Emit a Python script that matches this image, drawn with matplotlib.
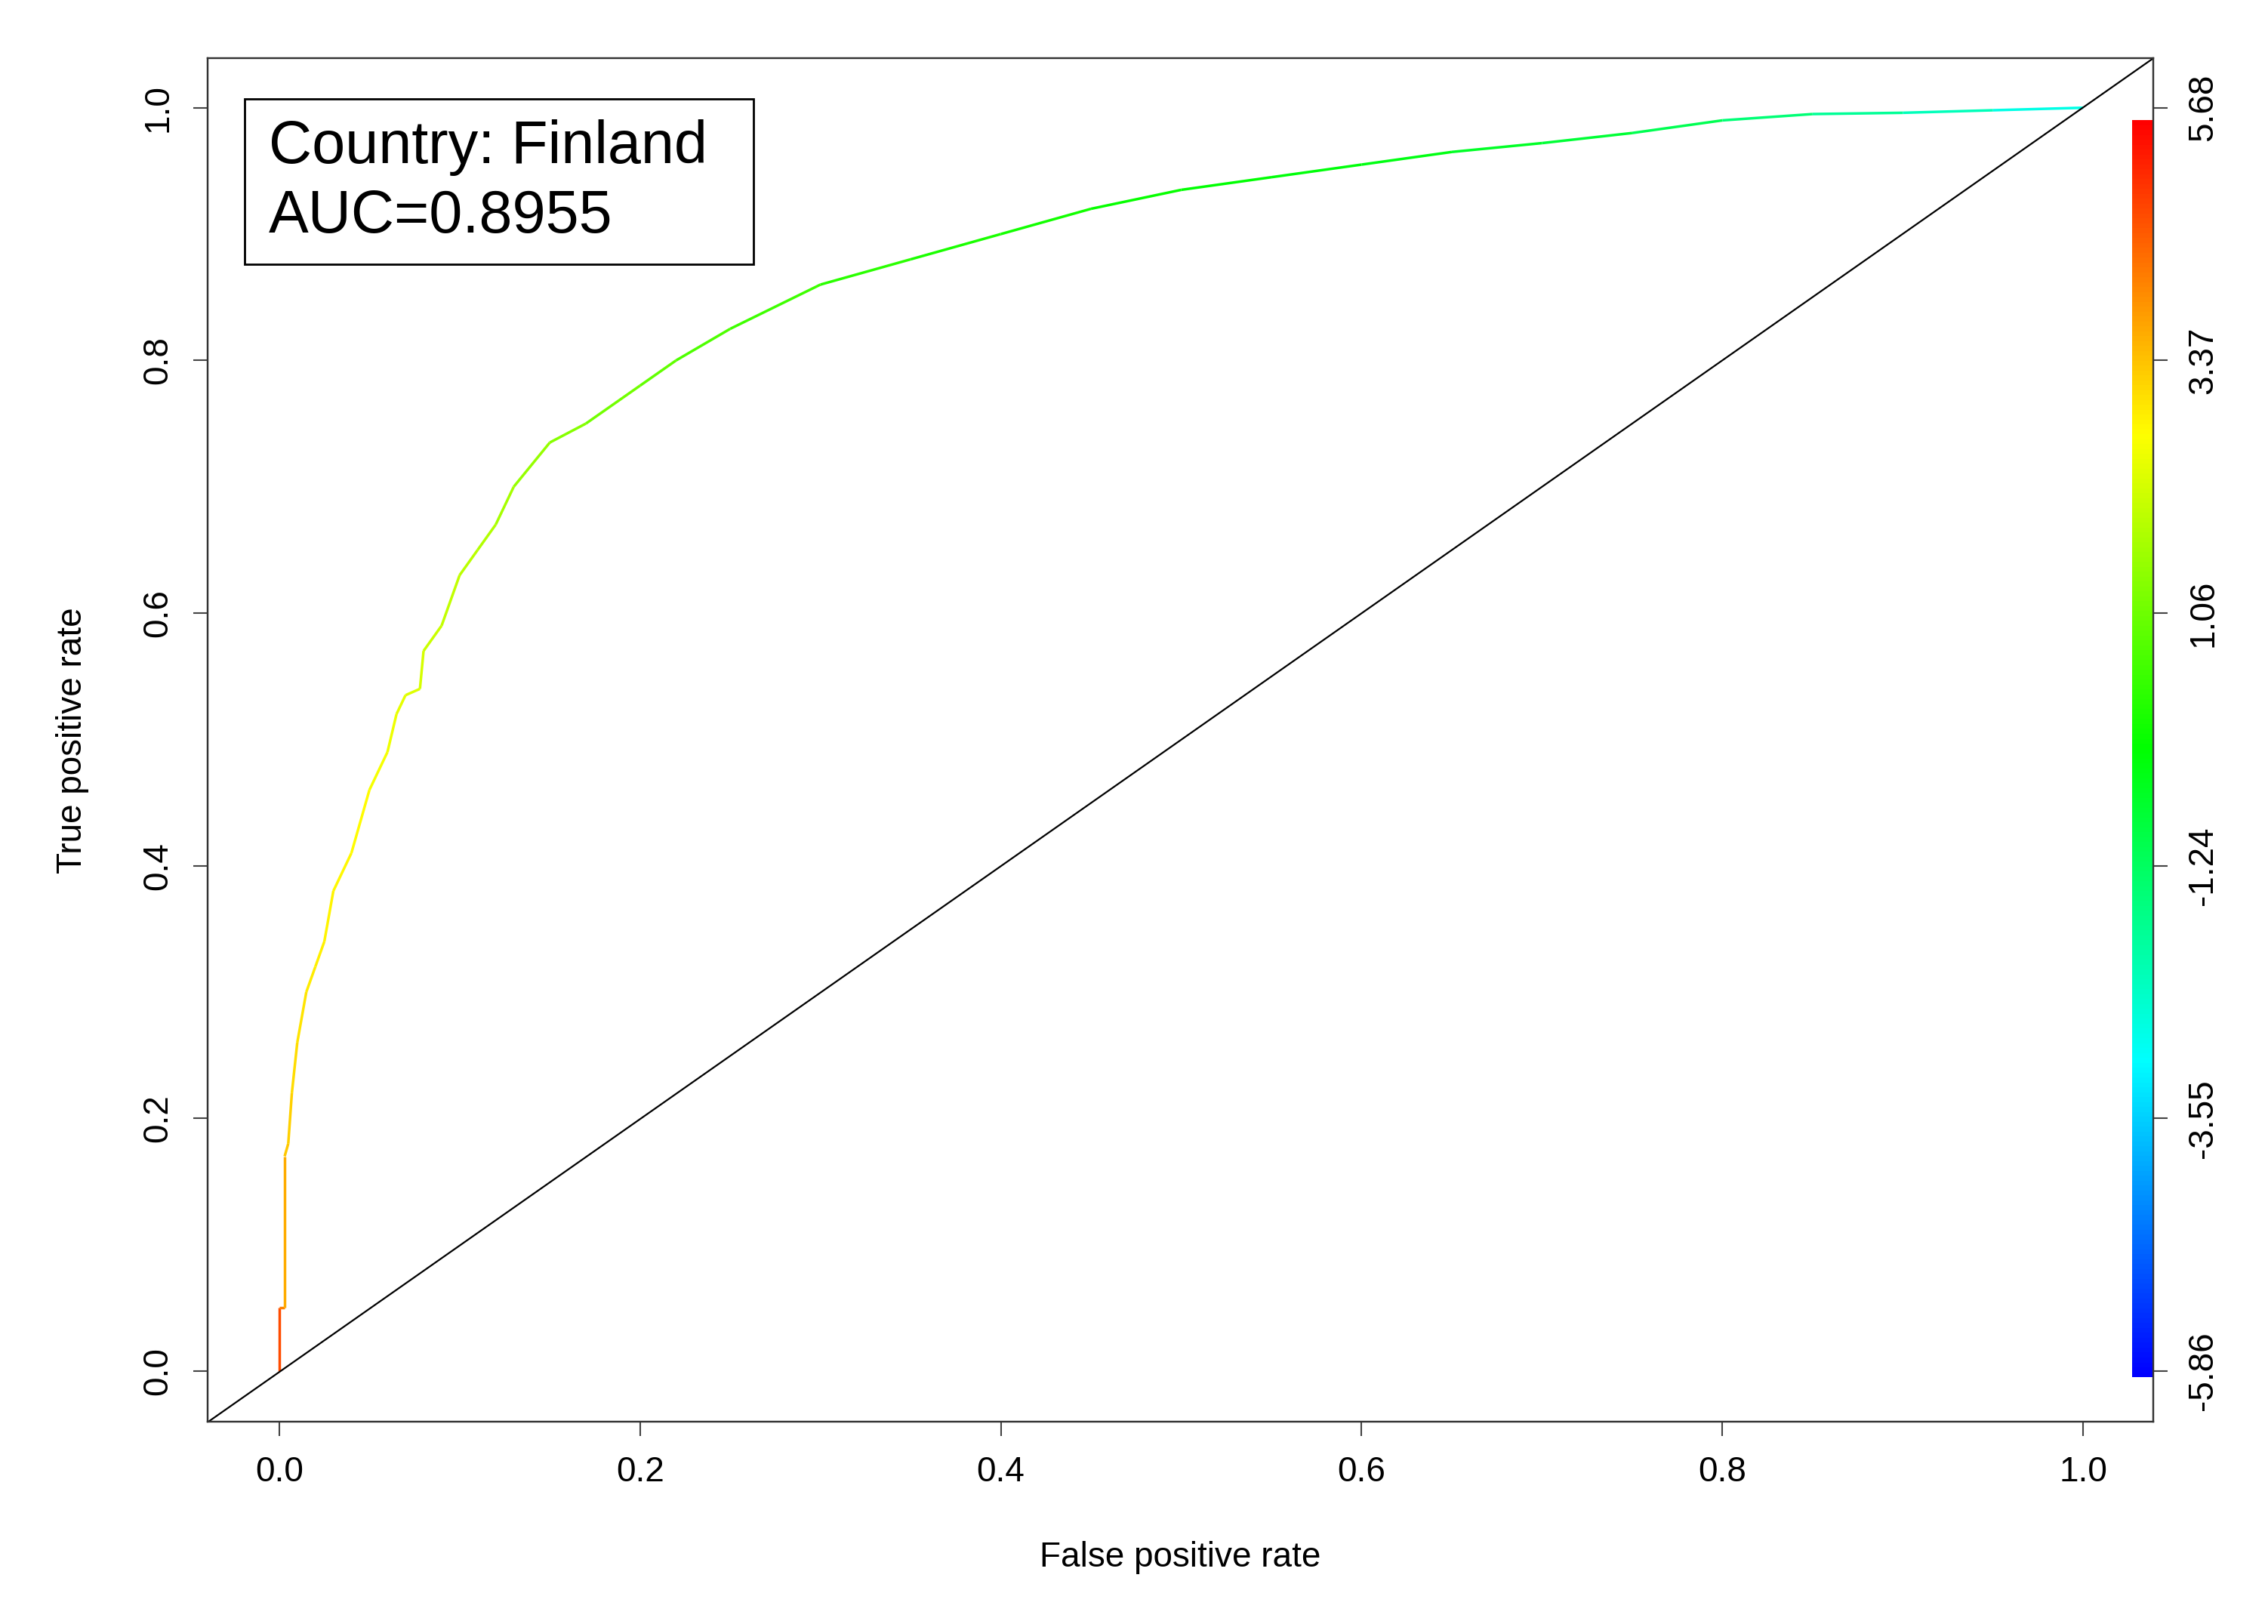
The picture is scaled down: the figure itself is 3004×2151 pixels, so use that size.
import numpy as np
import matplotlib.pyplot as plt
from matplotlib.collections import LineCollection
from matplotlib.colors import LinearSegmentedColormap, Normalize, hsv_to_rgb

plt.rcParams['font.family'] = ['Liberation Sans', 'DejaVu Sans']

# ROC curve
fpr = [0.0, 0.0, 0.003, 0.003, 0.005, 0.007, 0.01, 0.015, 0.02, 0.025, 0.03, 0.04,
       0.05, 0.06, 0.065, 0.07, 0.078, 0.08, 0.09, 0.1, 0.11, 0.12, 0.13, 0.15, 0.17,
       0.2, 0.22, 0.25, 0.3, 0.35, 0.4, 0.45, 0.5, 0.55, 0.6, 0.65, 0.7, 0.75, 0.8,
       0.85, 0.9, 0.95, 1.0]
tpr = [0.0, 0.05, 0.05, 0.17, 0.18, 0.22, 0.26, 0.30, 0.32, 0.34, 0.38, 0.41,
       0.46, 0.49, 0.52, 0.535, 0.54, 0.57, 0.59, 0.63, 0.65, 0.67, 0.70, 0.735, 0.75,
       0.78, 0.80, 0.825, 0.86, 0.88, 0.90, 0.92, 0.935, 0.945, 0.955, 0.965, 0.972, 0.98, 0.99,
       0.995, 0.996, 0.998, 1.0]
cutoff = [4.8, 4.2, 3.7, 3.4, 3.3, 3.2, 3.1, 3.0, 2.95, 2.9, 2.85, 2.8,
          2.7, 2.6, 2.5, 2.4, 2.3, 2.2, 2.1, 2.0, 1.9, 1.8, 1.6, 1.4, 1.2,
          1.0, 0.8, 0.6, 0.4, 0.2, 0.1, 0.0, -0.1, -0.2, -0.3, -0.5, -0.7, -1.0, -1.4,
          -1.8, -2.2, -2.7, -3.3]
cbar_ticks = [-5.86, -3.55, -1.24, 1.06, 3.37, 5.68]
auc_text = "Country: Finland\nAUC=0.8955"

# R-style rainbow: blue at the bottom, red at the top
hues = np.linspace(0.667, 0.0, 256)
cols = hsv_to_rgb(np.column_stack([hues, np.ones(256), np.ones(256)]))
cmap = LinearSegmentedColormap.from_list("rrainbow", cols)
norm = Normalize(vmin=cbar_ticks[0], vmax=cbar_ticks[-1])

fig = plt.figure(figsize=(30.04, 21.51), dpi=100)
ax = fig.add_axes([0.0917, 0.1244, 0.9493 - 0.0917, 0.964 - 0.1244])

pts = np.column_stack([fpr, tpr]).reshape(-1, 1, 2)
segs = np.concatenate([pts[:-1], pts[1:]], axis=1)
lc = LineCollection(segs, cmap=cmap, norm=norm, linewidth=2.5)
lc.set_array(np.array(cutoff[:-1]))
ax.add_collection(lc)

ax.plot([-0.0395, 1.0387], [-0.0403, 1.039], color='black', lw=1.6)

# colour bar drawn inside the plot region, against the right spine
grad = np.linspace(0, 1, 256).reshape(-1, 1)
ax.imshow(grad, cmap=cmap, origin='lower', aspect='auto',
          extent=[1.027, 1.0387, -0.005, 0.99], zorder=3)

ax.set_xlim(-0.0395, 1.0387)
ax.set_ylim(-0.0403, 1.039)

ticks = [0.0, 0.2, 0.4, 0.6, 0.8, 1.0]
ax.set_xticks(ticks)
ax.set_xticklabels([f"{t:.1f}" for t in ticks])
ax.set_yticks(ticks)
ax.set_yticklabels([f"{t:.1f}" for t in ticks], rotation=90, va='center')
ax.tick_params(labelsize=33, length=14, width=1.5, pad=18, color='#444444')

ax2 = ax.twinx()
ax2.set_ylim(ax.get_ylim())
ax2.set_yticks(ticks)
ax2.set_yticklabels([f"{v:.2f}" for v in cbar_ticks], rotation=90, va='center')
ax2.tick_params(labelsize=33, length=14, width=1.5, pad=18, color='#444444')

for a in (ax, ax2):
    for s in a.spines.values():
        s.set_linewidth(1.6)
        s.set_color('#333333')

ax.set_xlabel("False positive rate", fontsize=33, labelpad=50)
ax.set_ylabel("True positive rate", fontsize=33, labelpad=50)

ax.add_patch(plt.Rectangle((-0.019, 0.876), 0.282, 0.131, fill=False, lw=2,
                           edgecolor='black', zorder=4))
ax.text(-0.006, 0.941, auc_text, fontsize=57, va='center', ha='left',
        linespacing=1.3, zorder=5)

fig.savefig("out.png", dpi=100)
